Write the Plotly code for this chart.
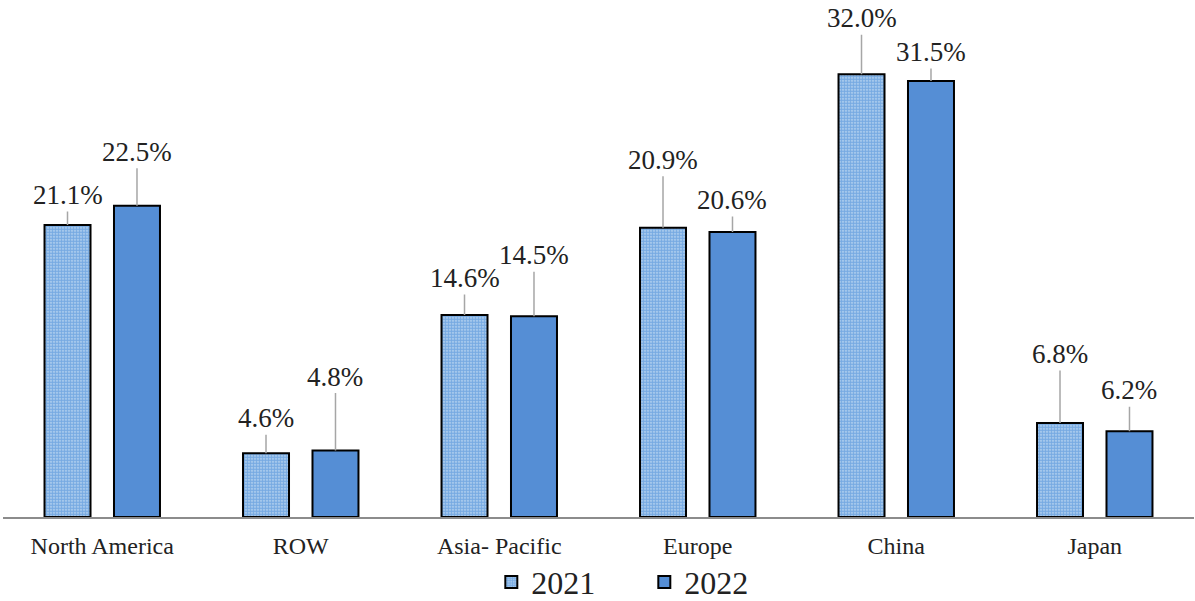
import plotly.graph_objects as go

regions = ["North America", "ROW", "Asia- Pacific", "Europe", "China", "Japan"]
share_2021 = [21.1, 4.6, 14.6, 20.9, 32.0, 6.8]
share_2022 = [22.5, 4.8, 14.5, 20.6, 31.5, 6.2]

# vertical pixel offset of each value label above its bar top
lift_2021 = [-30, -35, -37, -68, -56, -69]
lift_2022 = [-54, -74, -61, -32, -29, -41]

serif = "Times New Roman"

fig = go.Figure()
fig.add_trace(go.Bar(
    name="2021", x=regions, y=share_2021,
    marker=dict(
        color="#c4dcf4",
        line=dict(color="black", width=2),
        pattern=dict(shape=".", fgcolor="#2a78cf", bgcolor="#c4dcf4",
                     size=3, solidity=0.75, fillmode="overlay"),
    ),
))
fig.add_trace(go.Bar(
    name="2022", x=regions, y=share_2022,
    marker=dict(color="#558ed5", line=dict(color="black", width=2)),
))

bargap, groupgap = 0.30, 0.338
slot = (1 - bargap) / 2
annotations = []
for i, reg in enumerate(regions):
    for j, (vals, lifts) in enumerate([(share_2021, lift_2021), (share_2022, lift_2022)]):
        xoff = (j - 0.5) * slot
        annotations.append(dict(
            x=i + xoff, y=vals[i], xref="x", yref="y",
            text=f"{vals[i]:.1f}%", showarrow=True, arrowhead=0,
            arrowwidth=1.5, arrowcolor="#a6a6a6", ax=0, ay=lifts[i],
            font=dict(family=serif, size=27, color="#222"),
        ))

fig.update_layout(
    width=1195, height=601,
    margin=dict(l=3, r=1, t=0, b=84, autoexpand=False),
    paper_bgcolor="white", plot_bgcolor="white",
    font=dict(family=serif, color="#222"),
    barmode="group", bargap=bargap, bargroupgap=groupgap,
    annotations=annotations,
    showlegend=True,
    legend=dict(orientation="h", x=0.41, xanchor="left", y=-0.126, yanchor="middle",
                bgcolor="rgba(0,0,0,0)",
                font=dict(family=serif, size=32, color="#222"),
                entrywidth=108, itemwidth=30),
    xaxis=dict(type="category", range=[-0.5, 5.5], showline=True, linecolor="#8c8c8c",
               linewidth=2, showgrid=False, ticks="", ticklabelstandoff=6,
               automargin=False,
               tickfont=dict(family=serif, size=24, color="#222")),
    yaxis=dict(range=[0, 37.36], visible=False, showgrid=False, automargin=False),
)

fig.write_html("out.html")
